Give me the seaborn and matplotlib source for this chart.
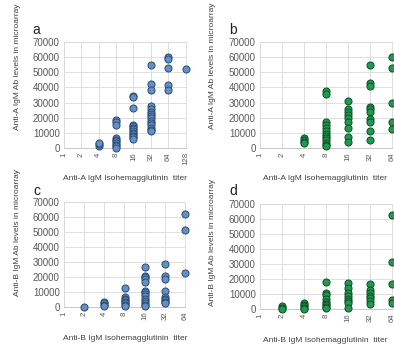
import numpy as np
import pandas as pd
import matplotlib
matplotlib.use("Agg")
import matplotlib.pyplot as plt
import seaborn as sns

sns.set_style("white")
plt.rcParams['font.family'] = ['Liberation Sans', 'DejaVu Sans']

# tick labels of the titer axis
titers_a = ['1', '2', '4', '8', '16', '32', '64', '128']
titers_c = ['1', '2', '4', '8', '16', '32', '64']

# a: anti-A IgM vs anti-A titer (blue)
a_levels = {
    4: [1500, 2500, 3500],
    8: [18500, 17000, 15000, 6500, 5500, 4500, 3000, 2000, 1000, 0],
    16: [34500, 33500, 26500, 15500, 14500, 13500, 12500, 11500, 10000, 9000, 8000, 7000, 6000],
    32: [55000, 42000, 38000, 28000, 26000, 24000, 22500, 21000, 19500, 18000, 16500, 15000, 13500, 12000, 11000],
    64: [60000, 59000, 53000, 41500, 38000],
    128: [52000],
}
# b: anti-A IgM vs anti-A titer (green)
b_levels = {
    4: [6500, 5000, 4000, 3000],
    8: [37500, 35500, 17000, 15000, 13000, 11000, 9500, 8000, 6500, 5000, 3500, 2000, 1000],
    16: [31000, 25500, 23500, 21500, 19500, 17500, 13500, 7500, 4000],
    32: [55000, 43000, 41000, 27000, 25500, 23500, 19000, 17000, 11000, 5500],
    64: [60000, 53000, 29500, 17000, 12500],
}
# c: anti-B IgM vs anti-B titer (blue)
c_levels = {
    2: [300],
    4: [3500, 2500, 1500, 500],
    8: [12500, 6500, 5500, 4500, 3500, 2500, 1500, 500],
    16: [27000, 21000, 20000, 18500, 17000, 11000, 10000, 9000, 7500, 5500, 4000, 2500, 1500, 500],
    32: [28500, 21000, 19000, 11000, 7000, 5500, 4500, 3500, 2500],
    64: [62000, 51500, 22500],
}
# d: anti-B IgM vs anti-B titer (green)
d_levels = {
    2: [2000, 1000, 300],
    4: [4000, 3000, 2000, 1000, 300],
    8: [18000, 11000, 9500, 6500, 4500, 3500, 2500, 1500, 500],
    16: [17500, 14000, 10500, 8500, 7000, 5500, 4000, 500],
    32: [16500, 12500, 10500, 9000, 7500, 5500, 3500],
    64: [62500, 31500, 17000, 6000, 4000],
}

W, H = 394, 349
fig = plt.figure(figsize=(W / 100, H / 100), dpi=100)


def to_df(levels):
    rows = [(t, v) for t, vals in levels.items() for v in vals]
    df = pd.DataFrame(rows, columns=['titer', 'level'])
    df['pos'] = np.log2(df['titer'])
    return df


def panel(box, levels, ticks, fill, edge, letter, xlab, ylab, lab_pos):
    l, r, t, b = box
    ax = fig.add_axes([l / W, 1 - b / H, (r - l) / W, (b - t) / H])
    sns.scatterplot(data=to_df(levels), x='pos', y='level', ax=ax, s=26,
                    color=fill, edgecolor=edge, linewidth=0.7, clip_on=False, zorder=3)
    ax.set_xlim(0, len(ticks) - 1)
    ax.set_ylim(0, 70000)
    ax.set_xticks(range(len(ticks)))
    ax.set_xticklabels(ticks, rotation=90, fontsize=5.6, color='#595959')
    ax.set_yticks(range(0, 70001, 10000))
    ax.set_yticklabels([str(v) for v in range(0, 70001, 10000)], fontsize=7, color='#595959')
    ax.tick_params(length=0, pad=3)
    ax.grid(True, color='#d9d9d9', lw=0.6)
    ax.set_axisbelow(True)
    for s in ax.spines.values():
        s.set_color('#d9d9d9')
        s.set_linewidth(0.6)
    ax.spines['bottom'].set_color('#bfbfbf')
    ax.set_xlabel('')
    ax.set_ylabel('')
    fig.text(lab_pos[0] / W, 1 - lab_pos[1] / H, letter, fontsize=10, color='#202020',
             ha='center', va='center')
    fig.text(lab_pos[2] / W, 1 - lab_pos[3] / H, xlab, fontsize=6, color='#404040',
             ha='center', va='center')
    fig.text(lab_pos[4] / W, 1 - lab_pos[5] / H, ylab, fontsize=6, color='#404040',
             ha='center', va='center', rotation=90)
    return ax


blue, blue_edge = '#6590c4', '#2a4a73'
green, green_edge = '#1f9a4f', '#0d4f27'

panel((64, 185.5, 42, 148), a_levels, titers_a, blue, blue_edge, 'a',
      'Anti-A IgM Isohemagglutinin  titer', 'Anti-A IgM Ab levels in microarray',
      (36, 30, 125, 178, 18, 67))
panel((260, 392, 42, 148), b_levels, titers_c, green, green_edge, 'b',
      'Anti-A IgM Isohemagglutinin  titer', 'Anti-A IgM Ab levels in microarray',
      (233, 30, 325, 178, 213, 66))
panel((64, 185, 202, 307), c_levels, titers_c, blue, blue_edge, 'c',
      'Anti-B IgM Isohemagglutinin  titer', 'Anti-B IgM Ab levels in microarray',
      (37, 191, 125, 338, 18, 232))
panel((260, 392, 204, 309), d_levels, titers_c, green, green_edge, 'd',
      'Anti-B IgM Isohemagglutinin  titer', 'Anti-B IgM Ab levels in microarray',
      (233, 191, 325, 340, 213, 242))

fig.savefig('out.png', dpi=100)
